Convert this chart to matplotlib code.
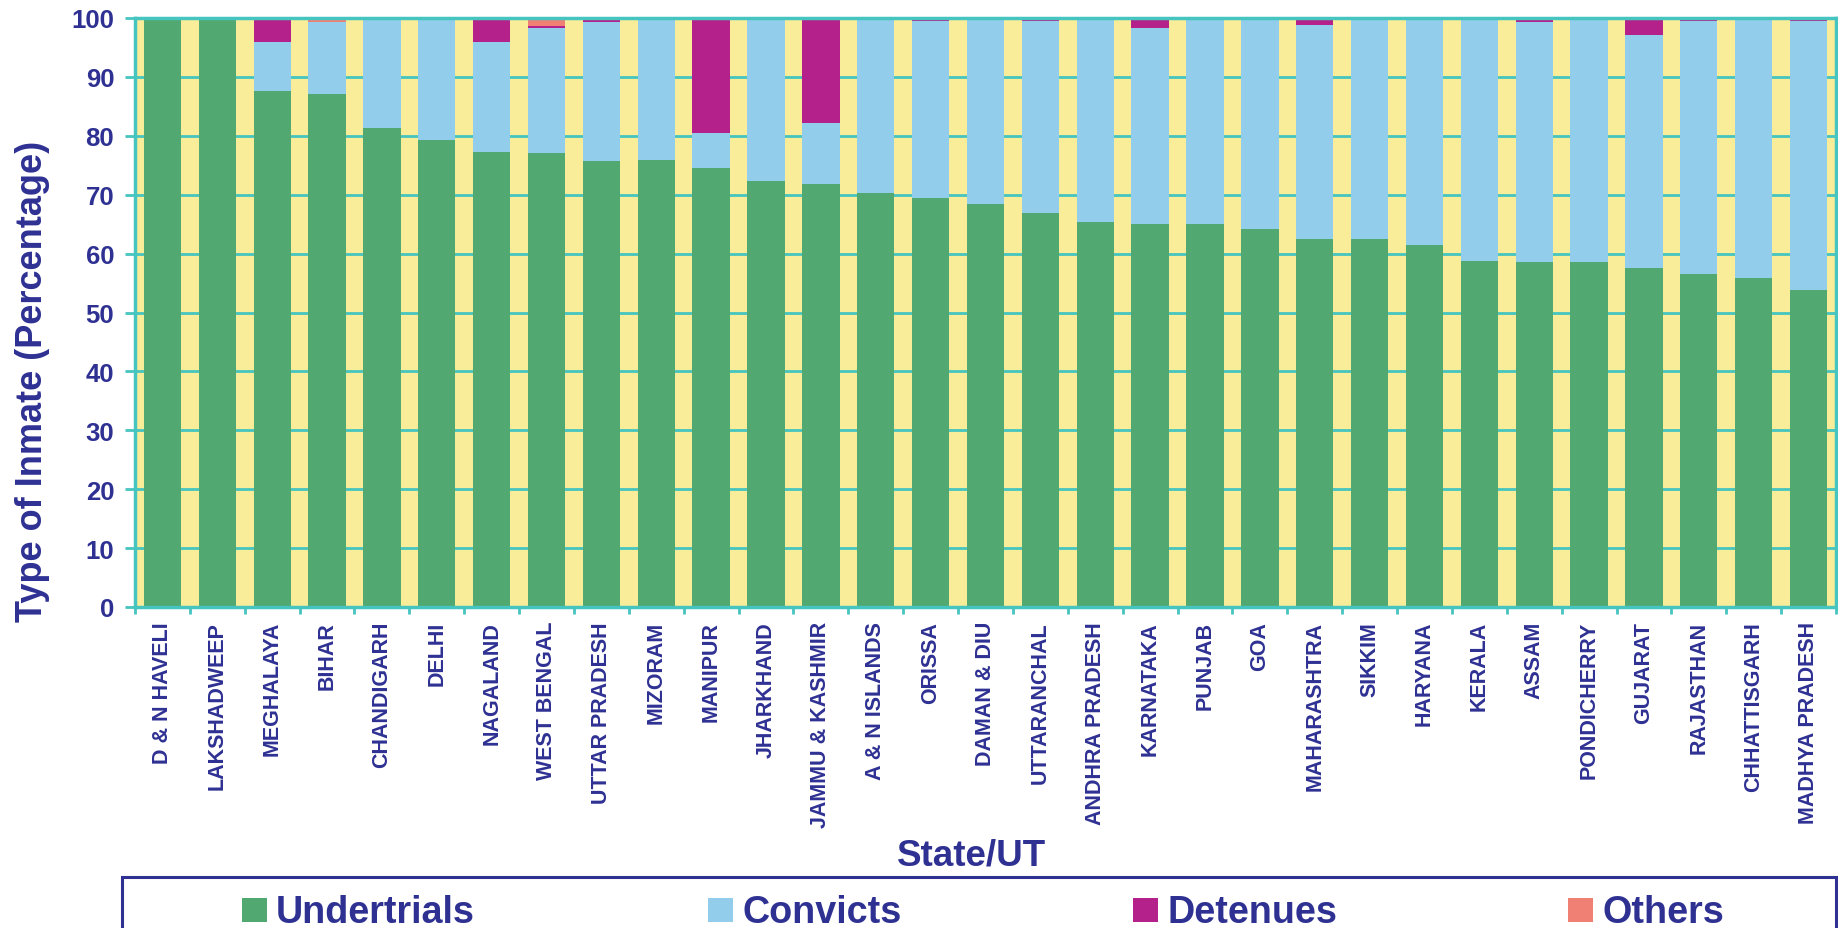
import matplotlib
matplotlib.use("Agg")
import matplotlib.pyplot as plt
import numpy as np
from matplotlib.patches import Rectangle

states = ["D & N HAVELI", "LAKSHADWEEP", "MEGHALAYA", "BIHAR", "CHANDIGARH", "DELHI",
          "NAGALAND", "WEST BENGAL", "UTTAR PRADESH", "MIZORAM", "MANIPUR", "JHARKHAND",
          "JAMMU & KASHMIR", "A & N ISLANDS", "ORISSA", "DAMAN & DIU", "UTTARANCHAL",
          "ANDHRA PRADESH", "KARNATAKA", "PUNJAB", "GOA", "MAHARASHTRA", "SIKKIM",
          "HARYANA", "KERALA", "ASSAM", "PONDICHERRY", "GUJARAT", "RAJASTHAN",
          "CHHATTISGARH", "MADHYA PRADESH"]

undertrials = [100.0, 100.0, 87.6, 87.1, 81.4, 79.3, 77.3, 77.1, 75.8, 75.9, 74.6, 72.4,
               71.9, 70.3, 69.5, 68.5, 66.9, 65.4, 65.1, 65.1, 64.1, 62.5, 62.5, 61.4,
               58.8, 58.5, 58.6, 57.5, 56.6, 55.9, 53.9]
convicts = [0.0, 0.0, 8.4, 12.2, 18.6, 20.5, 18.6, 21.2, 23.5, 24.1, 5.9, 27.6,
            10.3, 29.7, 30.0, 31.5, 32.6, 34.4, 33.2, 34.6, 35.9, 36.3, 37.5, 38.3,
            40.9, 40.8, 41.4, 39.6, 42.9, 43.9, 45.6]
detenues = [0.0, 0.0, 4.0, 0.0, 0.0, 0.2, 3.9, 0.35, 0.35, 0.0, 19.5, 0.0,
            17.6, 0.0, 0.17, 0.0, 0.17, 0.17, 1.36, 0.34, 0.0, 1.0, 0.0, 0.0,
            0.34, 0.5, 0.0, 2.9, 0.17, 0.0, 0.17]
others = [0.0, 0.0, 0.0, 0.7, 0.0, 0.0, 0.0, 1.36, 0.34, 0.0, 0.0, 0.0,
          0.0, 0.0, 0.34, 0.0, 0.34, 0.0, 0.34, 0.0, 0.0, 0.17, 0.0, 0.34,
          0.0, 0.0, 0.0, 0.0, 0.34, 0.17, 0.34]
y_ticks = [0, 10, 20, 30, 40, 50, 60, 70, 80, 90, 100]

series_names = ["Undertrials", "Convicts", "Detenues", "Others"]
series_colors = ["#51A870", "#92CEEB", "#B5218A", "#F08073"]

NAVY = "#2E3192"
TEAL = "#45C4C0"
YELLOW = "#FAED9A"
FAM = ["Liberation Sans", "DejaVu Sans"]

W, H = 1838, 929
fig = plt.figure(figsize=(W / 100, H / 100), dpi=100)

def fx(x):
    return x / W

def fy(y):
    return 1 - y / H

ax_left, ax_right, ax_top, ax_bot = 135, 1836, 19, 608
ax = fig.add_axes([fx(ax_left), fy(ax_bot), fx(ax_right - ax_left), (ax_bot - ax_top) / H])
ax.set_facecolor(YELLOW)

# horizontal guide lines, visible only in gaps between bars
for yv in y_ticks:
    ax.axhline(yv, color=TEAL, linewidth=2, zorder=1)

x = np.arange(len(states))
bottom = np.zeros(len(states))
for vals, name, col in zip([undertrials, convicts, detenues, others], series_names, series_colors):
    v = np.array(vals)
    ax.bar(x, v, width=0.68, bottom=bottom, color=col, label=name, zorder=3, linewidth=0)
    bottom += v

ax.set_xlim(-0.5, len(states) - 0.5)
ax.set_ylim(0, 100)
ax.set_yticks(y_ticks)

for s in ax.spines.values():
    s.set_color(TEAL)
    s.set_linewidth(2.5)
    s.set_zorder(4)

# major ticks at category boundaries, labels at centers (minor)
ax.set_xticks(np.arange(-0.5, len(states) + 0.5, 1.0))
ax.set_xticklabels([])
ax.set_xticks(x, minor=True)
ax.set_xticklabels(states, minor=True, rotation=90, fontsize=15.5,
                   fontweight="bold", color=NAVY, family=FAM,
                   va="top", ha="center")
ax.tick_params(axis="x", which="major", direction="out", length=5, width=2, color=TEAL)
ax.tick_params(axis="x", which="minor", length=0, pad=10)
ax.tick_params(axis="y", direction="out", length=7, width=2, color=TEAL, pad=8)
for lbl in ax.get_yticklabels():
    lbl.set_fontsize(18.5)
    lbl.set_fontweight("bold")
    lbl.set_color(NAVY)
    lbl.set_family(FAM)

fig.text(fx(33), fy(381), "Type of Inmate (Percentage)", rotation=90, ha="center", va="center",
         fontsize=26, fontweight="bold", color=NAVY, family=FAM)

fig.text(fx(971), fy(856), "State/UT", ha="center", va="center",
         fontsize=26.5, fontweight="bold", color=NAVY, family=FAM)

# legend box (partly cut off at bottom)
frame = Rectangle((fx(122), fy(975)), fx(1836 - 122), (975 - 878) / H,
                  transform=fig.transFigure, fill=False, edgecolor=NAVY, linewidth=2.2,
                  clip_on=False)
fig.patches.append(frame)

sq_x = [242, 708, 1133, 1568]
for sx, name, col in zip(sq_x, series_names, series_colors):
    fig.patches.append(Rectangle((fx(sx), fy(923)), fx(25), 24 / H, transform=fig.transFigure,
                                 facecolor=col, edgecolor="none"))
    fig.text(fx(sx + 34), fy(923), name, ha="left", va="baseline", fontsize=27.2,
             fontweight="bold", color=NAVY, family=FAM)

fig.savefig("out.png", dpi=100)
